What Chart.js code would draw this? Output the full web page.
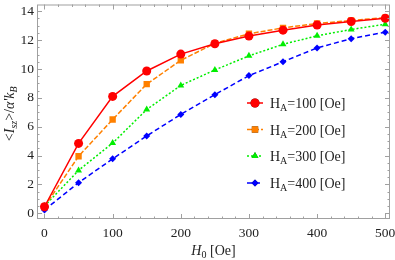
<!DOCTYPE html>
<html>
<head>
<meta charset="utf-8">
<script src="https://cdn.jsdelivr.net/npm/chart.js@4"></script>
<style>
  html, body { margin: 0; padding: 0; background: #fff; }
  #wrap { width: 395px; height: 260px; }
</style>
</head>
<body>
<div id="wrap"><canvas id="chart"></canvas></div>
<script>
const h0 = [0, 50, 100, 150, 200, 250, 300, 350, 400, 450, 500];
const ha100 = [0.45, 4.84, 8.1, 9.86, 11.03, 11.75, 12.28, 12.69, 13.05, 13.29, 13.51];
const ha200 = [0.45, 3.95, 6.5, 8.95, 10.6, 11.78, 12.44, 12.85, 13.15, 13.36, 13.56];
const ha300 = [0.5, 2.97, 4.86, 7.19, 8.86, 9.93, 10.91, 11.71, 12.3, 12.74, 13.1];
const ha400 = [0.23, 2.12, 3.77, 5.36, 6.85, 8.22, 9.54, 10.5, 11.46, 12.1, 12.55];
const seriesNames = ['100', '200', '300', '400'];
const xTicks = [0, 100, 200, 300, 400, 500];
const yTicks = [0, 2, 4, 6, 8, 10, 12, 14];

const serif = '"Liberation Serif", "DejaVu Serif", serif';
const frameColor = '#a0a0a0';

function toPoints(ys) {
    return h0.map((x, i) => ({ x: x, y: ys[i] }));
}

const styles = [
    { color: '#ff0000', dash: [], point: 'circle', radius: 4.5 },
    { color: '#ff8000', dash: [5, 2], point: 'rect', radius: 4.5 },
    { color: '#00ee00', dash: [2, 2], point: 'triangle', radius: 4 },
    { color: '#0000ff', dash: [5, 3], point: 'rectRot', radius: 3.5 },
];

const allSeries = [ha100, ha200, ha300, ha400];

const datasets = allSeries.map((ys, i) => ({
    label: 'HA=' + seriesNames[i] + ' [Oe]',
    data: toPoints(ys),
    borderColor: styles[i].color,
    backgroundColor: styles[i].color,
    borderWidth: 1.5,
    borderDash: styles[i].dash,
    pointStyle: styles[i].point,
    pointRadius: styles[i].radius,
    pointBorderWidth: 0,
    tension: 0,
}));

// frame with inward ticks on all four sides, axis titles and the inset legend
const decorPlugin = {
    id: 'decor',
    afterDraw(chart) {
        const ctx = chart.ctx;
        const a = chart.chartArea;
        const xs = chart.scales.x;
        const ys = chart.scales.y;
        ctx.save();
        ctx.strokeStyle = frameColor;
        ctx.lineWidth = 1;
        ctx.setLineDash([]);
        ctx.strokeRect(a.left + 0.5, a.top + 0.5, a.right - a.left - 1, a.bottom - a.top - 1);

        ctx.beginPath();
        for (let v = 0; v <= 500; v += 20) {
            const px = Math.round(xs.getPixelForValue(v)) + 0.5;
            const len = v % 100 === 0 ? 5 : 2.5;
            ctx.moveTo(px, a.bottom); ctx.lineTo(px, a.bottom - len);
            ctx.moveTo(px, a.top); ctx.lineTo(px, a.top + len);
        }
        for (let v = 0; v <= 14; v += 0.5) {
            const py = Math.round(ys.getPixelForValue(v)) + 0.5;
            const len = v % 2 === 0 ? 5 : 2.5;
            ctx.moveTo(a.left, py); ctx.lineTo(a.left + len, py);
            ctx.moveTo(a.right, py); ctx.lineTo(a.right - len, py);
        }
        ctx.stroke();

        // x title: H0 [Oe]
        ctx.fillStyle = '#222';
        ctx.textBaseline = 'alphabetic';
        const big = '14px ' + serif;
        const bigIt = 'italic 14px ' + serif;
        const sub = '10px ' + serif;
        const subIt = 'italic 10px ' + serif;
        const xParts = [
            { t: 'H', f: bigIt, dy: 0 },
            { t: '0', f: sub, dy: 3 },
            { t: ' [Oe]', f: big, dy: 0 },
        ];
        drawParts(ctx, xParts, (a.left + a.right) / 2, 255, true);

        // y title: <I_sz>/α'k_B
        ctx.save();
        ctx.translate(14, (a.top + a.bottom) / 2 + 2);
        ctx.rotate(-Math.PI / 2);
        const yParts = [
            { t: '<', f: big, dy: 0 },
            { t: 'I', f: bigIt, dy: 0 },
            { t: 'sz', f: subIt, dy: 3 },
            { t: '>/', f: big, dy: 0 },
            { t: 'α\'', f: bigIt, dy: 0 },
            { t: 'k', f: bigIt, dy: 0 },
            { t: 'B', f: subIt, dy: 3 },
        ];
        drawParts(ctx, yParts, 0, 0, true);
        ctx.restore();

        // legend
        const rowY = [103, 129.5, 156, 183];
        chart.data.datasets.forEach((ds, i) => {
            const y = rowY[i];
            ctx.strokeStyle = ds.borderColor;
            ctx.lineWidth = 1.5;
            ctx.setLineDash(ds.borderDash);
            ctx.beginPath();
            ctx.moveTo(247, y); ctx.lineTo(263, y);
            ctx.stroke();
            ctx.setLineDash([]);
            Chart.helpers.drawPoint(ctx, {
                pointStyle: ds.pointStyle, radius: ds.pointRadius, rotation: 0, borderWidth: 0
            }, 255, y);
            ctx.fillStyle = ds.borderColor;
            ctx.fill();
            ctx.fillStyle = '#222';
            const parts = [
                { t: 'H', f: big, dy: 0 },
                { t: 'A', f: sub, dy: 3 },
                { t: '=' + seriesNames[i] + ' [Oe]', f: big, dy: 0 },
            ];
            drawParts(ctx, parts, 270, y + 5, false);
        });
        ctx.restore();
    }
};

function drawParts(ctx, parts, x, y, centered) {
    let total = 0;
    parts.forEach(p => { ctx.font = p.f; total += ctx.measureText(p.t).width; });
    let cx = centered ? x - total / 2 : x;
    ctx.textAlign = 'left';
    parts.forEach(p => {
        ctx.font = p.f;
        ctx.fillText(p.t, cx, y + p.dy);
        cx += ctx.measureText(p.t).width;
    });
}

new Chart(document.getElementById('chart'), {
    type: 'line',
    data: { datasets: datasets },
    options: {
        responsive: true,
        maintainAspectRatio: false,
        animation: false,
        devicePixelRatio: 1,
        layout: { padding: { top: 2, right: 5, left: 0, bottom: 0 } },
        plugins: {
            legend: { display: false },
            tooltip: { enabled: false },
        },
        scales: {
            x: {
                type: 'linear',
                min: -11,
                max: 507,
                afterBuildTicks: (scale) => { scale.ticks = xTicks.map(v => ({ value: v })); },
                afterFit: (scale) => { scale.height = 41; scale.paddingLeft = 0; scale.paddingRight = 0; },
                grid: { display: false, drawTicks: false },
                border: { display: false },
                ticks: {
                    color: '#222',
                    font: { family: serif, size: 13.5 },
                    padding: 6,
                    maxRotation: 0,
                },
            },
            y: {
                min: -0.4,
                max: 14.47,
                afterBuildTicks: (scale) => { scale.ticks = yTicks.map(v => ({ value: v })); },
                afterFit: (scale) => { scale.width = 37; scale.paddingTop = 0; scale.paddingBottom = 0; },
                grid: { display: false, drawTicks: false },
                border: { display: false },
                ticks: {
                    color: '#222',
                    font: { family: serif, size: 13.5 },
                    padding: 3,
                },
            },
        },
    },
    plugins: [decorPlugin],
});
</script>
</body>
</html>
